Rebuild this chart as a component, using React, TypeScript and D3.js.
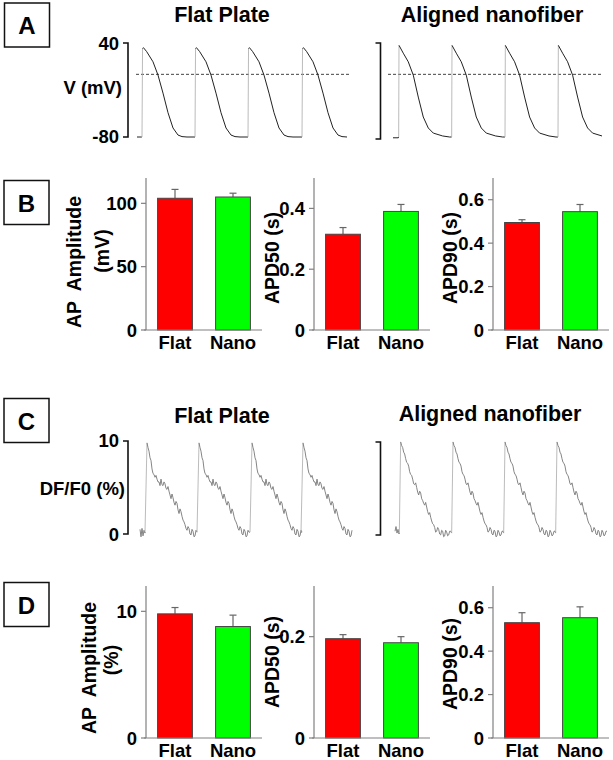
import React from 'react'
import * as d3 from 'd3'

const W = 613, H = 760
const FONT = '"Liberation Sans", Arial, Helvetica, sans-serif'

// ---- panel A: membrane potential, one beat (ms from upstroke, mV) ----
const apFlatT = [0, 8, 22, 70, 165, 240, 315, 390, 465, 540, 600, 675, 780]
const apFlatV = [-80, 33, 34, 29, 16, -1, -24, -49, -68.5, -77.5, -79.5, -80, -80]
const apFlatOnsets = [75, 870, 1665, 2475]
const apFlatPreT = [0, 70], apFlatPreV = [-80, -80]
const apFlatEnd = 3165

const apNanoT = [0, 5, 69, 144, 219, 294, 369, 444, 519, 660, 765, 790]
const apNanoV = [-80, 37, 27, 16, -1, -29, -54.5, -68.5, -75, -78.7, -80, -80]
const apNanoOnsets = [85, 880, 1680, 2475]
const apNanoPreT = [0, 80], apNanoPreV = [-81, -81]
const apNanoEnd = 3180

// ---- panel C: calcium transients, one beat (ms from peak, %) ----
const caFlatT = [-30, 0, 15, 30, 45, 60, 75, 90, 105, 120, 135, 150, 165, 180, 195, 210, 225, 240, 255, 270, 285, 300, 315, 330, 345, 360, 375, 390, 405, 420, 435, 450, 465, 480, 495, 510, 525, 540, 555, 570, 585, 600, 615, 630, 645, 660, 675, 690, 705, 720, 735, 750]
const caFlatV = [0.2, 9.8, 9.3, 8.9, 8.2, 7.9, 7.0, 6.5, 6.4, 6.1, 6.3, 5.9, 5.6, 5.6, 5.2, 5.9, 5.3, 5.2, 5.6, 5.4, 4.9, 4.8, 5.1, 4.6, 4.2, 3.8, 4.3, 3.9, 3.4, 3.1, 3.5, 3.3, 2.6, 2.2, 2.7, 2.4, 1.9, 1.5, 1.3, 1.0, 0.6, 0.4, 0.8, 0.6, 0.0, -0.1, 0.5, 0.3, -0.3, -0.2, 0.4, 0.2]
const caFlatOnsets = [105, 885, 1680, 2445]
const caFlatPreT = [0, 15, 30, 45, 60, 75], caFlatPreV = [0.5, -0.3, 0.6, -0.2, 0.4, 0.1]
const caFlatEnd = 3180

const caNanoT = [-20, 0, 15, 30, 45, 60, 75, 90, 105, 120, 135, 150, 165, 180, 195, 210, 225, 240, 255, 270, 285, 300, 315, 330, 345, 360, 375, 390, 405, 420, 435, 450, 465, 480, 495, 510, 525, 540, 555, 570, 585, 600, 615, 630, 645, 660, 675, 690, 705, 720, 735, 750]
const caNanoV = [0.1, 9.9, 9.5, 9.3, 8.8, 8.6, 8.1, 7.7, 7.6, 7.3, 6.7, 6.4, 6.3, 5.9, 5.4, 5.3, 5.5, 5.0, 4.5, 4.2, 4.6, 4.4, 3.8, 3.6, 3.3, 3.1, 3.4, 2.9, 2.4, 2.1, 2.3, 1.8, 1.4, 1.1, 1.0, 0.7, 0.2, 0.3, 0.7, 0.5, 0.0, -0.1, 0.4, 0.3, -0.3, -0.2, 0.4, 0.2, -0.2, -0.1, 0.3, 0.3]
const caNanoOnsets = [85, 870, 1650, 2430]
const caNanoPreT = [0, 15, 30, 45, 60], caNanoPreV = [0.3, 0.8, 0.1, 0.5, 0.0]
const caNanoEnd = 3180

// ---- bar charts ----
const categories = ['Flat', 'Nano']
const ampB = [104, 105], ampBErr = [7, 3]
const apd50B = [0.315, 0.39], apd50BErr = [0.022, 0.023]
const apd90B = [0.495, 0.545], apd90BErr = [0.013, 0.033]
const ampD = [9.8, 8.8], ampDErr = [0.5, 0.9]
const apd50D = [0.196, 0.188], apd50DErr = [0.008, 0.012]
const apd90D = [0.531, 0.554], apd90DErr = [0.046, 0.05]

const buildTrace = (preT: number[], preV: number[], onsets: number[], tT: number[], tV: number[], end: number) => {
  const pts: [number, number][] = preT.map((t, i) => [t, preV[i]])
  onsets.forEach(o => tT.forEach((t, i) => { if (o + t <= end) pts.push([o + t, tV[i]]) }))
  return pts
}

function Trace({ pts, x0, x1, end, y, color, width }: any) {
  const x = d3.scaleLinear().domain([0, end]).range([x0, x1])
  const px = pts.map((d: [number, number]) => [x(d[0]), y(d[1])])
  // upstrokes show as faint thin lines in the recording
  const segs: any[] = []
  let cur: number[][] = [px[0]]
  for (let i = 1; i < px.length; i++) {
    const a = px[i - 1], b = px[i]
    const steep = a[1] - b[1] > 4 * Math.abs(b[0] - a[0]) && a[1] - b[1] > 20
    if (steep) {
      if (cur.length > 1) segs.push({ p: cur, s: false })
      segs.push({ p: [a, b], s: true })
      cur = [b]
    } else cur.push(b)
  }
  if (cur.length > 1) segs.push({ p: cur, s: false })
  const line = d3.line<number[]>().x(d => d[0]).y(d => d[1])
  return <g>{segs.map((s, i) => <path key={i} d={line(s.p as any) || ''} fill="none"
    stroke={s.s ? '#aaa' : color} strokeWidth={s.s ? 0.8 : width} strokeLinejoin="round" />)}</g>
}

function Bracket({ x, y0, y1 }: any) {
  return <path d={`M${x - 5},${y0}H${x}V${y1}H${x - 5}`} fill="none" stroke="#111" strokeWidth={1.6} />
}

function LetterBox({ x, y, t }: any) {
  return <g>
    <rect x={x} y={y} width={45} height={44} fill="#fff" stroke="#111" strokeWidth={1.5} />
    <text x={x + 22.5} y={y + 31} textAnchor="middle" fontSize={24} fontWeight="bold">{t}</text>
  </g>
}

function Bars({ x0, base, top, max, ticks, values, errs, labels }: any) {
  const y = d3.scaleLinear().domain([0, max]).range([base, top])
  const x = d3.scaleBand().domain(categories).range([x0, x0 + 116]).paddingInner(0.4).paddingOuter(0.2)
  const bw = x.bandwidth()
  return <g>
    {categories.map((c, i) => {
      const cx = (x(c) as number) + bw / 2
      return <g key={c}>
        <line x1={cx} x2={cx} y1={y(values[i])} y2={y(values[i] + errs[i])} stroke="#666" strokeWidth={1.2} />
        <line x1={cx - 3.5} x2={cx + 3.5} y1={y(values[i] + errs[i])} y2={y(values[i] + errs[i])} stroke="#666" strokeWidth={1.2} />
        <rect x={x(c)} y={y(values[i])} width={bw} height={base - y(values[i])}
          fill={i === 0 ? '#ff0000' : '#00ff00'} stroke="#444" strokeWidth={1} />
        <text x={cx} y={base + 19} textAnchor="middle" fontSize={18.5} fontWeight="bold">{c}</text>
      </g>
    })}
    <line x1={x0} x2={x0} y1={top} y2={base} stroke="#808080" strokeWidth={1.2} />
    <line x1={x0 - 2} x2={x0 + 116} y1={base} y2={base} stroke="#808080" strokeWidth={1.2} />
    {ticks.map((t: number) => <g key={t}>
      <line x1={x0 - 5} x2={x0} y1={y(t)} y2={y(t)} stroke="#808080" strokeWidth={1.2} />
      <text x={x0 - 9} y={y(t)} dy="0.36em" textAnchor="end" fontSize={18.5} fontWeight="bold">{String(t)}</text>
    </g>)}
    {labels.map((l: any) => <text key={l.t} x={l.x} y={l.y} transform={`rotate(-90,${l.x},${l.y})`}
      textAnchor="middle" dominantBaseline="central" fontSize={19.5} fontWeight="bold"
      style={{ whiteSpace: 'pre' }}>{l.t}</text>)}
  </g>
}

export default function App() {
  const yAP = d3.scaleLinear().domain([-80, 40]).range([137, 43])
  const yCa = d3.scaleLinear().domain([0, 10]).range([534, 441])
  const apFlat = buildTrace(apFlatPreT, apFlatPreV, apFlatOnsets, apFlatT, apFlatV, apFlatEnd)
  const apNano = buildTrace(apNanoPreT, apNanoPreV, apNanoOnsets, apNanoT, apNanoV, apNanoEnd)
  const caFlat = buildTrace(caFlatPreT, caFlatPreV, caFlatOnsets, caFlatT, caFlatV, caFlatEnd)
  const caNano = buildTrace(caNanoPreT, caNanoPreV, caNanoOnsets, caNanoT, caNanoV, caNanoEnd)

  return (
    <svg width={W} height={H} style={{ position: 'absolute', left: 0, top: 0, background: '#fff' }}
      fontFamily={FONT} fill="#000">
      {/* A */}
      <LetterBox x={4.5} y={3} t="A" />
      <text x={222} y={22} textAnchor="middle" fontSize={21.5} fontWeight="bold">Flat Plate</text>
      <text x={492} y={22} textAnchor="middle" fontSize={21.5} fontWeight="bold">Aligned nanofiber</text>
      <Bracket x={128} y0={yAP(40)} y1={yAP(-80)} />
      <text x={119} y={yAP(40)} dy="0.36em" textAnchor="end" fontSize={18.5} fontWeight="bold">40</text>
      <text x={119} y={yAP(-80)} dy="0.3em" textAnchor="end" fontSize={18.5} fontWeight="bold">-80</text>
      <text x={122} y={94} textAnchor="end" fontSize={18.5} fontWeight="bold">V (mV)</text>
      <Bracket x={380.5} y0={43} y1={139} />
      <line x1={136} x2={350} y1={yAP(0)} y2={yAP(0)} stroke="#444" strokeWidth={1} strokeDasharray="3,2" />
      <line x1={388} x2={603} y1={yAP(0)} y2={yAP(0)} stroke="#444" strokeWidth={1} strokeDasharray="3,2" />
      <Trace pts={apFlat} x0={137} x1={348} end={apFlatEnd} y={yAP} color="#222" width={1} />
      <Trace pts={apNano} x0={393} x1={605} end={apNanoEnd} y={yAP} color="#222" width={1} />

      {/* B */}
      <LetterBox x={4} y={180.5} t="B" />
      <Bars x0={146} base={330} top={178} max={120} ticks={[0, 50, 100]} values={ampB} errs={ampBErr}
        labels={[{ t: 'AP  Amplitude', x: 74, y: 262 }, { t: '(mV)', x: 102, y: 251 }]} />
      <Bars x0={314} base={330} top={178} max={0.5} ticks={[0, 0.2, 0.4]} values={apd50B} errs={apd50BErr}
        labels={[{ t: 'APD50 (s)', x: 272, y: 258 }]} />
      <Bars x0={493} base={330} top={178} max={0.7} ticks={[0, 0.2, 0.4, 0.6]} values={apd90B} errs={apd90BErr}
        labels={[{ t: 'APD90 (s)', x: 450, y: 258 }]} />

      {/* C */}
      <LetterBox x={4} y={398.5} t="C" />
      <text x={222} y={423} textAnchor="middle" fontSize={21.5} fontWeight="bold">Flat Plate</text>
      <text x={490} y={421} textAnchor="middle" fontSize={21.5} fontWeight="bold">Aligned nanofiber</text>
      <Bracket x={128} y0={yCa(10)} y1={yCa(0)} />
      <text x={119} y={yCa(10)} dy="0.3em" textAnchor="end" fontSize={18.5} fontWeight="bold">10</text>
      <text x={119} y={yCa(0)} dy="0.36em" textAnchor="end" fontSize={18.5} fontWeight="bold">0</text>
      <text x={125} y={495} textAnchor="end" fontSize={18.5} fontWeight="bold">DF/F0 (%)</text>
      <Bracket x={380.5} y0={442} y1={535} />
      <Trace pts={caFlat} x0={140} x1={352} end={caFlatEnd} y={yCa} color="#777" width={0.9} />
      <Trace pts={caNano} x0={395} x1={607} end={caNanoEnd} y={yCa} color="#777" width={0.9} />

      {/* D */}
      <LetterBox x={4} y={582.5} t="D" />
      <Bars x0={146} base={738} top={586} max={12} ticks={[0, 10]} values={ampD} errs={ampDErr}
        labels={[{ t: 'AP  Amplitude', x: 89, y: 668 }, { t: '(%)', x: 111, y: 660 }]} />
      <Bars x0={314} base={738} top={586} max={0.3} ticks={[0, 0.2]} values={apd50D} errs={apd50DErr}
        labels={[{ t: 'APD50 (s)', x: 272, y: 662 }]} />
      <Bars x0={493} base={738} top={586} max={0.7} ticks={[0, 0.2, 0.4, 0.6]} values={apd90D} errs={apd90DErr}
        labels={[{ t: 'APD90 (s)', x: 450, y: 664 }]} />
    </svg>
  )
}
